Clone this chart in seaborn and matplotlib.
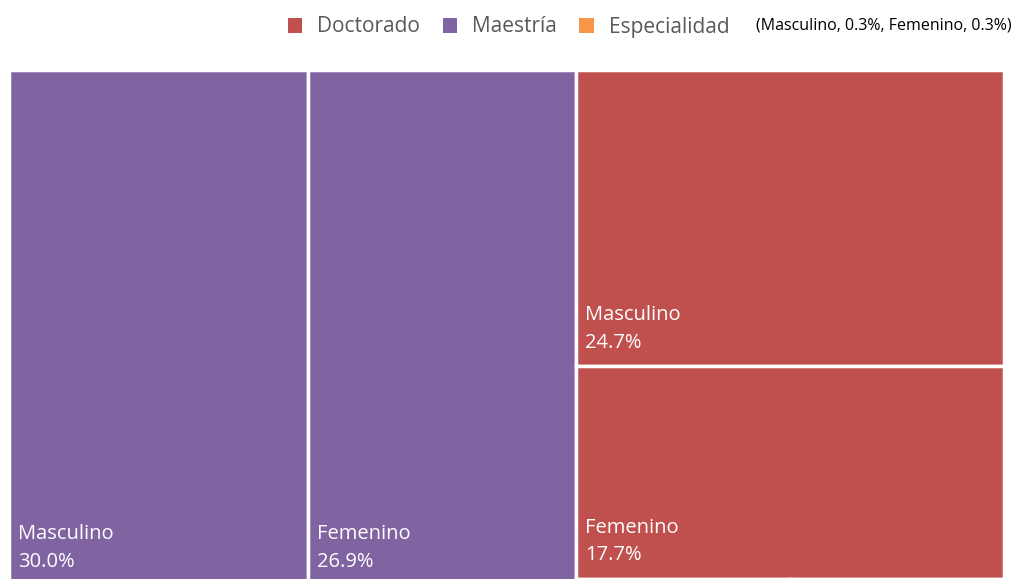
import matplotlib.pyplot as plt
import seaborn as sns
from matplotlib.patches import Patch

# data (percent of total)
groups = ['Maestría', 'Doctorado', 'Especialidad']
sexes = ['Masculino', 'Femenino']
maestria = [30.0, 26.9]
doctorado = [24.7, 17.7]
especialidad = [0.3, 0.3]
legend_order = ['Doctorado', 'Maestría', 'Especialidad']
note = '(Masculino, 0.3%, Femenino, 0.3%)'

sns.set_theme(style='white')
plt.rcParams['font.family'] = ['Open Sans', 'DejaVu Sans']
palette = dict(zip(groups, sns.color_palette(['#8064A2', '#C0504D', '#F79646'])))

fig = plt.figure(figsize=(10.15, 5.79), dpi=100)
ax = fig.add_axes([9 / 1015, -7 / 579, 995 / 1015, 516 / 579])

total = sum(maestria) + sum(doctorado) + sum(especialidad)
right_total = sum(doctorado) + sum(especialidad)
col_w = sum(maestria)
edge = dict(edgecolor='white', linewidth=2.5, align='edge')
lbl = dict(color='white', fontsize=14.5, ha='left', va='bottom', linespacing=1.5)

# left column: Maestría split side by side
x0 = 0
for sex, v in zip(sexes, maestria):
    ax.bar(x0, 1, width=v, bottom=0, color=palette['Maestría'], **edge)
    ax.text(x0 + total * 0.009, 0.972, f'{sex}\n{v:.1f}%', **lbl)
    x0 += v

# right column: Doctorado stacked, Especialidad at the bottom (falls off the crop)
y0 = 0
for sex, v in zip(sexes, doctorado):
    h = v / right_total
    ax.bar(col_w, h, width=right_total, bottom=y0, color=palette['Doctorado'], **edge)
    ax.text(col_w + total * 0.009, y0 + h - 0.026, f'{sex}\n{v:.1f}%', **lbl)
    y0 += h
x1 = col_w
h = sum(especialidad) / right_total
for v in especialidad:
    w = right_total * v / sum(especialidad)
    ax.bar(x1, h, width=w, bottom=y0, color=palette['Especialidad'], **edge)
    x1 += w

ax.set_xlim(0, total)
ax.set_ylim(1, 0)
ax.axis('off')

handles = [Patch(facecolor=palette[g], edgecolor='none') for g in legend_order]
fig.legend(handles, legend_order, loc='center right', bbox_to_anchor=(748 / 1015, 1 - 27 / 579),
           ncol=3, frameon=False, fontsize=15, handlelength=0.7, handleheight=0.7,
           handletextpad=0.7, columnspacing=1.1, labelcolor='#595959')
fig.text(1012 / 1015, 1 - 26 / 579, note, ha='right', va='center', fontsize=11.5, color='black')

fig.savefig('out.png', dpi=100)
